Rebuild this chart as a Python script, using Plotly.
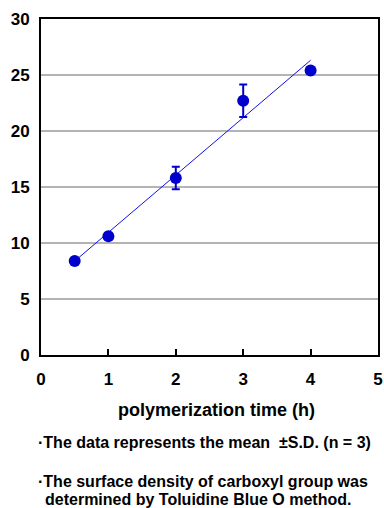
import numpy as np
import plotly.graph_objects as go

time_h = [0.5, 1, 2, 3, 4]
density = [8.4, 10.6, 15.8, 22.7, 25.4]
sd = [0.0, 0.0, 1.0, 1.45, 0.0]
x_ticks = [0, 1, 2, 3, 4, 5]
y_ticks = [0, 5, 10, 15, 20, 25, 30]
x_title = "polymerization time (h)"
notes = ["·The data represents the mean \u00a0±S.D. (n = 3)",
         "·The surface density of carboxyl group was",
         "determined by Toluidine Blue O method."]

slope, intercept = np.polyfit(time_h, density, 1)
fit_x = [min(time_h), max(time_h)]
fit_y = [slope * v + intercept for v in fit_x]

BLUE = "#0000CC"
FONT = "Liberation Sans, Arial, sans-serif"

fig = go.Figure()
fig.add_trace(go.Scatter(x=fit_x, y=fit_y, mode="lines",
                         line=dict(color="#1010E8", width=1), showlegend=False,
                         hoverinfo="skip", cliponaxis=False))
fig.add_trace(go.Scatter(x=time_h, y=density, mode="markers",
                         marker=dict(color=BLUE, size=12),
                         error_y=dict(type="data", array=sd, visible=True,
                                      color=BLUE, thickness=2, width=4),
                         showlegend=False, cliponaxis=False))

W, H = 384, 508
L, R, T, B = 41, 6, 19, 153
ph = H - T - B

def py(pix):
    return (H - B - pix) / ph

fig.update_layout(
    width=W, height=H,
    margin=dict(l=L, r=R, t=T, b=B, autoexpand=False),
    plot_bgcolor="white", paper_bgcolor="white",
    font=dict(family=FONT, color="black"),
    xaxis=dict(range=[0, 5], tickvals=x_ticks, ticks="inside", ticklen=6,
               tickwidth=2, tickcolor="black", showgrid=False,
               showline=True, linecolor="black", linewidth=2, mirror=True,
               automargin=False, ticklabelstandoff=8,
               tickfont=dict(size=17, family=FONT, weight="bold"), zeroline=False),
    yaxis=dict(range=[0, 30], tickvals=y_ticks, ticks="", showgrid=True,
               gridcolor="#B4B4B4", gridwidth=2,
               showline=True, linecolor="black", linewidth=2, mirror=True,
               automargin=False, ticklabelstandoff=6,
               tickfont=dict(size=17, family=FONT, weight="bold"), zeroline=False),
)

ann = [
    dict(text="<b>%s</b>" % x_title, x=216, y=410, size=18, xa="center"),
    dict(text="<b>%s</b>" % notes[0], x=36, y=442, size=16, xa="left"),
    dict(text="<b>%s</b>" % notes[1], x=36, y=481, size=16, xa="left"),
    dict(text="<b>%s</b>" % notes[2], x=43, y=499, size=16, xa="left"),
]
for a in ann:
    fig.add_annotation(text=a["text"], xref="paper", yref="paper",
                       x=(a["x"] - L) / (W - L - R), y=py(a["y"]),
                       xanchor=a["xa"], yanchor="middle", showarrow=False,
                       font=dict(size=a["size"], family=FONT, color="black"))

fig.write_html("out.html", config={"displayModeBar": False},
               post_script="document.body.style.margin='0';document.body.style.overflow='hidden';")
